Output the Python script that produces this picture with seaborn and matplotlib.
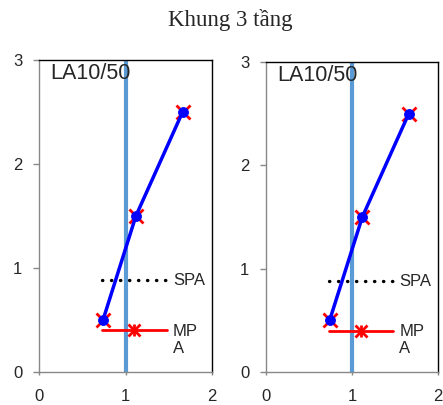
import pandas as pd
import matplotlib
matplotlib.use("Agg")
import matplotlib.pyplot as plt
import seaborn as sns

# data
depth = [0.5, 1.5, 2.5]
ratio_red = [0.74, 1.12, 1.66]
ratio_blue = [0.74, 1.12, 1.66]
ref_x = [1.0, 1.0]
ref_y = [0.0, 3.0]
spa_x = [0.73, 1.48]
spa_y = [0.88, 0.88]
mpa_x = [0.73, 1.48]
mpa_y = [0.4, 0.4]
mpa_mark_x = [1.1]
mpa_mark_y = [0.4]
panel_label = "LA10/50"
title = "Khung 3 tầng"

sns.set_style("white")
plt.rcParams['font.family'] = ['Liberation Sans', 'DejaVu Sans']

df = pd.DataFrame({"depth": depth, "red": ratio_red, "blue": ratio_blue})

fig = plt.figure(figsize=(4.43, 4.05), dpi=100)
ax1 = fig.add_axes([39 / 443, 33 / 405, 173 / 443, 312 / 405])
ax2 = fig.add_axes([266 / 443, 33 / 405, 172 / 443, 310 / 405])

for ax in (ax1, ax2):
    ax.plot(ref_x, ref_y, color="#5B9BD5", lw=3, zorder=1)
    ax.plot(spa_x, spa_y, color="black", ls=(0, (0.1, 2.6)), lw=2.4,
            dash_capstyle="round", zorder=2)
    ax.plot(mpa_x, mpa_y, color="red", lw=2, zorder=2)
    ax.plot(mpa_mark_x, mpa_mark_y, ls="none", marker="x", ms=8,
            mec="red", mew=2, zorder=3)
    ax.plot(mpa_mark_x, mpa_mark_y, ls="none", marker="|", ms=9,
            mec="red", mew=2, zorder=3)
    sns.lineplot(data=df, x="red", y="depth", sort=False, estimator=None,
                 color="red", lw=1.5, marker="x", ms=10, mew=2,
                 mec="red", ax=ax, zorder=3)
    sns.lineplot(data=df, x="blue", y="depth", sort=False, estimator=None,
                 color="#0000FF", lw=2.5, marker="o", ms=7, mec="#0000FF",
                 ax=ax, zorder=4)
    ax.text(1.55, 0.88, "SPA", fontsize=12, va="center", ha="left")
    ax.text(1.55, 0.31, "MP\nA", fontsize=12, va="center", ha="left",
            linespacing=1.15)
    ax.text(0.13, 2.87, panel_label, fontsize=15.5, va="center", ha="left")
    ax.set_xlim(0, 2)
    ax.set_ylim(0, 3)
    ax.set_xticks([0, 1, 2])
    ax.set_yticks([0, 1, 2, 3])
    ax.set_xlabel("")
    ax.set_ylabel("")
    ax.tick_params(axis="y", direction="out", length=4, width=1,
                   color="#888888", labelsize=12, pad=8, left=True)
    ax.tick_params(axis="x", direction="out", length=2.5, width=1,
                   color="#888888", labelsize=12, pad=10, bottom=True)
    for side, s in ax.spines.items():
        s.set_linewidth(1)
        s.set_color("#888888" if side in ("left", "bottom") else "black")

fig.text(0.52, 0.95, title, fontsize=16.5, ha="center", va="center",
         family=["Liberation Serif", "DejaVu Serif"])

fig.savefig("out.png", dpi=100)
